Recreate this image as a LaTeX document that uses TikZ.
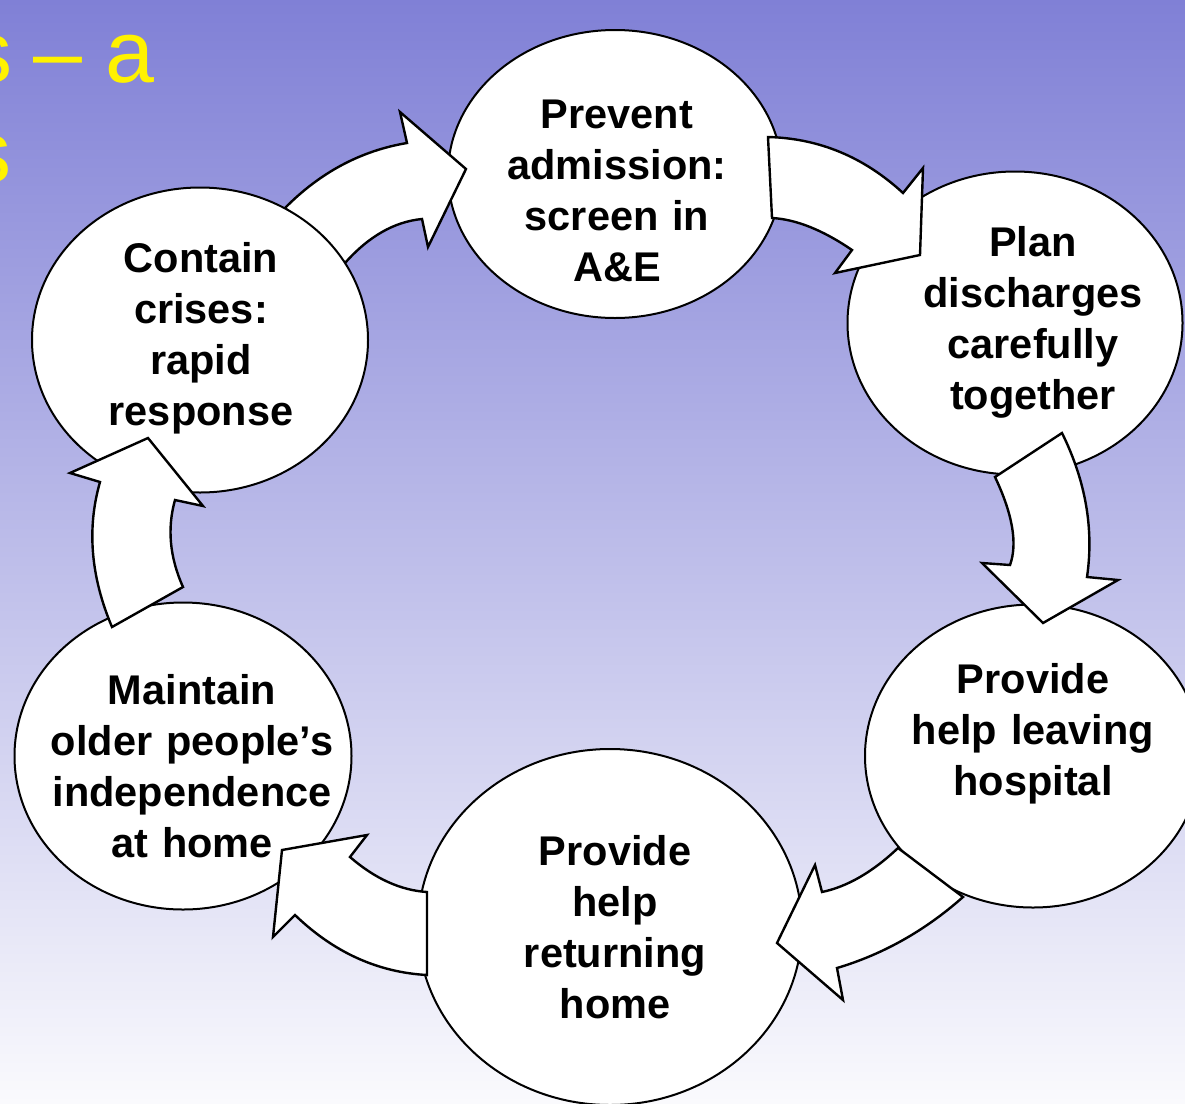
\documentclass[tikz,border=0pt]{standalone}
\usepackage{fontspec}
\setmainfont{Liberation Sans}
\usetikzlibrary{shapes.geometric}
\definecolor{bgtop}{RGB}{128,128,214}
\definecolor{bgbottom}{RGB}{250,250,253}
\begin{document}
\begin{tikzpicture}[x=1pt,y=-1pt,
  ell/.style={ellipse, draw=black, fill=white, line width=2pt, inner sep=0pt},
  lbl/.style={font=\fontsize{41.5}{51}\selectfont\bfseries, align=center, text width=360pt, anchor=base, inner sep=0pt},
  blockarrow/.style={draw=black, fill=white, line width=2.4pt, line join=miter},
  title/.style={font=\fontsize{88}{100}\selectfont, text=yellow, anchor=base east, inner sep=0pt}]
\useasboundingbox (0,0) rectangle (1185,1103);
\clip (0,0) rectangle (1185,1103);
\shade[top color=bgtop, bottom color=bgbottom] (0,0) rectangle (1185,1103);

% title fragments
\node[title] (title1) at (155,82) {s\hspace{-2.5pt} –\hspace{-1.5pt} a};
\node[title] (title2) at (12,182) {s};

% ellipses (contain is drawn after its outgoing arrow)
\node[ell, minimum width=334pt, minimum height=288pt] (prevent) at (615,174) {};
\node[ell, minimum width=335pt, minimum height=303pt] (plan) at (1015,323) {};
\node[ell, minimum width=336pt, minimum height=303pt] (leaving) at (1033,756) {};
\node[ell, minimum width=384pt, minimum height=356pt] (returning) at (610,927) {};
\node[ell, minimum width=337pt, minimum height=307pt] (maintain) at (183,756) {};

% contain -> prevent
\draw[blockarrow] (285,208) .. controls (320.3,172.3) and (361,150.7) .. (407,143)
  -- (400,112) -- (466,169) -- (428,247) -- (422,219)
  .. controls (394.3,221.7) and (368.7,236.3) .. (345,263) -- cycle;

\node[ell, minimum width=336pt, minimum height=305pt] (contain) at (200,340) {};

% prevent -> plan
\draw[blockarrow] (768,137) .. controls (819,138.3) and (864,157) .. (903,193)
  -- (923,168) -- (920,255) -- (835,273) -- (852,250)
  .. controls (822.7,230) and (796,219.3) .. (772,218) -- cycle;
% plan -> leaving
\draw[blockarrow] (1062,433) .. controls (1085.7,481) and (1094,529) .. (1087,577)
  -- (1118,580) -- (1043,623) -- (982,563) -- (1010,565)
  .. controls (1017.7,543.7) and (1012.7,514.3) .. (995,477) -- cycle;
% leaving -> returning
\draw[blockarrow] (963,897) .. controls (925,930.7) and (883,954.3) .. (837,968)
  -- (843,1000) -- (777,943) -- (815,865) -- (822,892)
  .. controls (847.3,886.7) and (872.7,872) .. (898,848) -- cycle;
% returning -> maintain
\draw[blockarrow] (427,892) .. controls (400.7,890.3) and (375,878.7) .. (350,857)
  -- (367,835) -- (282,850) -- (273,937) -- (295,915)
  .. controls (333.7,952.3) and (377.7,972.3) .. (427,975) -- cycle;
% maintain -> contain
\draw[blockarrow] (112,627) .. controls (90.7,576.7) and (86.7,528.3) .. (100,482)
  -- (70,473) -- (148,438) -- (203,506) -- (175,500)
  .. controls (167,528.3) and (169.7,557.3) .. (183,587) -- cycle;

% labels
\node[lbl] (tprevent) at (617,128) {Prevent\\admission:\\screen in\\A\&E};
\node[lbl] (tplan) at (1033,256) {Plan\\discharges\\carefully\\together};
\node[lbl] (tleaving) at (1033,693) {Provide\\help leaving\\hospital};
\node[lbl] (treturning) at (615,865) {Provide\\help\\returning\\home};
\node[lbl] (tmaintain) at (192,704) {Maintain\\older people’s\\independence\\at home};
\node[lbl] (tcontain) at (201,272) {Contain\\crises:\\rapid\\response};
\end{tikzpicture}
\end{document}
